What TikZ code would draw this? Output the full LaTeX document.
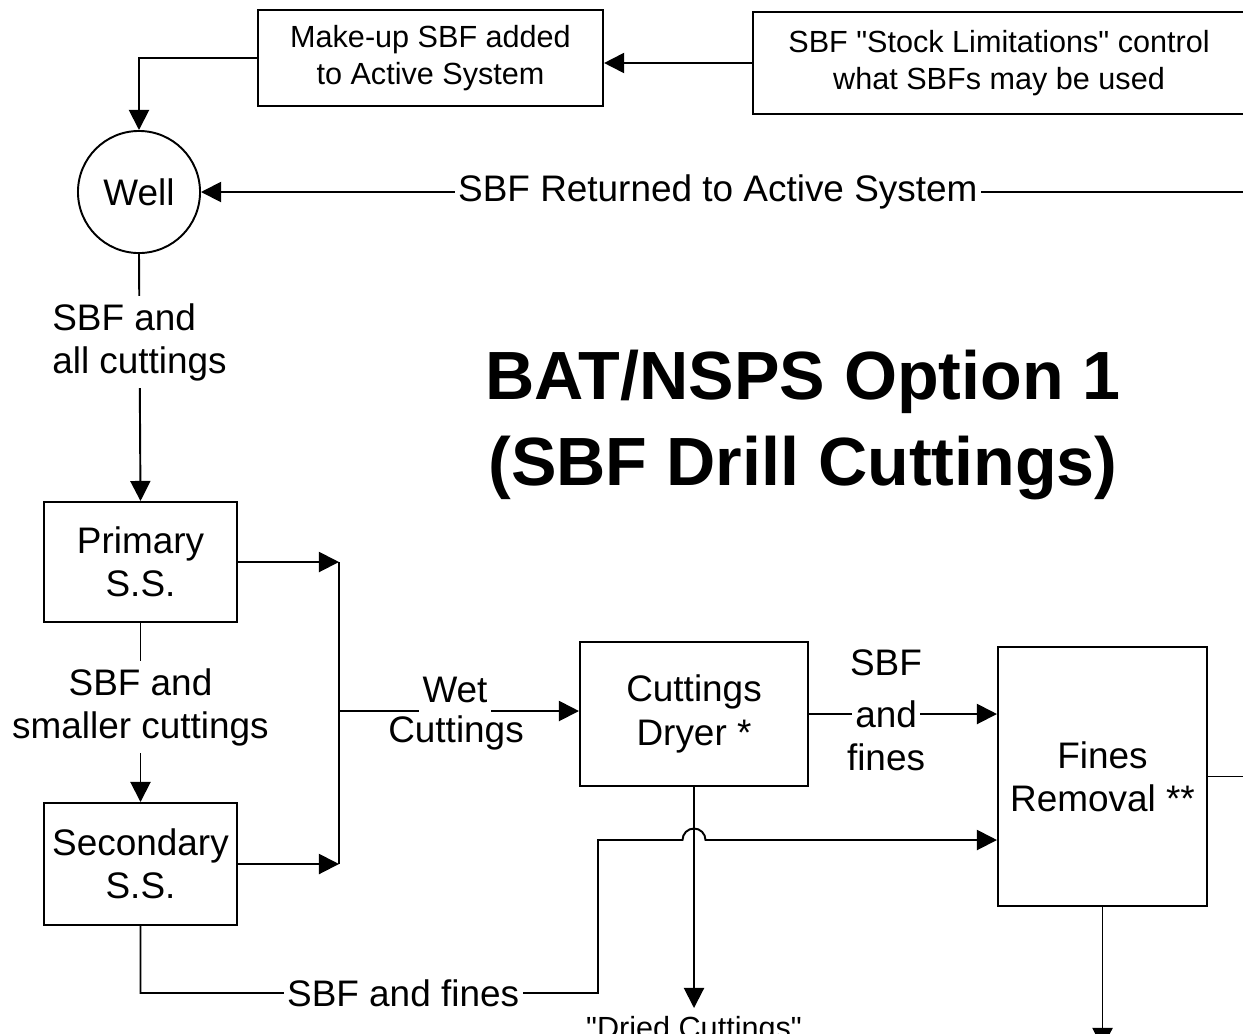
\documentclass[tikz,border=0pt]{standalone}
\usepackage{fontspec}
\setmainfont{Liberation Sans}
\usetikzlibrary{arrows.meta,positioning}

\begin{document}
\begin{tikzpicture}[x=0.01cm,y=-0.01cm,line width=0.55pt]
  \tikzstyle{blk}=[draw,rectangle,align=center,inner sep=0pt,font=\fontsize{10.5}{12.3}\selectfont]
  \tikzstyle{note}=[draw,rectangle,align=center,inner sep=0pt,font=\fontsize{8.7}{10.5}\selectfont]
  \tikzstyle{lbl}=[align=center,inner sep=2pt,font=\fontsize{10.5}{12.3}\selectfont]
  \tikzstyle{f}=[-{Triangle[length=5.7pt,width=5.7pt]}]

  \useasboundingbox (0,0) rectangle (1243,1033);

  \node[note,minimum width=3.45cm,minimum height=0.96cm] (mkup) at (430.5,58) {Make-up SBF added\\ to Active System};
  \node[note,minimum width=4.92cm,minimum height=1.02cm] (stock) at (999,63) {SBF \textquotedbl Stock Limitations\textquotedbl{} control\\ what SBFs may be used};
  \node[blk,circle,minimum size=1.22cm] (well) at (139,192) {Well};
  \node[blk,minimum width=1.93cm,minimum height=1.2cm] (prim) at (140.5,562) {Primary\\ S.S.};
  \node[blk,minimum width=1.93cm,minimum height=1.22cm] (sec) at (140.5,864) {Secondary\\ S.S.};
  \node[blk,minimum width=2.28cm,minimum height=1.44cm] (dryer) at (694,714) {Cuttings\\ Dryer *};
  \node[blk,minimum width=2.09cm,minimum height=2.59cm] (fines) at (1102.5,776.5) {Fines\\ Removal **};
  \node[align=center,font=\fontsize{19.4}{24.2}\selectfont\bfseries] (title) at (803,425) {BAT/NSPS Option 1\\ (SBF Drill Cuttings)};
  \node[lbl,font=\fontsize{8.7}{10.5}\selectfont,anchor=north] (dried) at (694,1008) {\textquotedbl Dried Cuttings\textquotedbl};

  \coordinate (bustop) at (339,562);
  \coordinate (busmid) at (339,711);
  \coordinate (busbot) at (339,864);
  \coordinate (hop) at (694,840);
  \coordinate (retc) at (1260,192);
  \coordinate (finesout) at (1102.5,1048);

  % top part
  \draw[f] (stock.west) -- (stock.west -| mkup.east);
  \draw[f] (mkup.west) -| (well.north);
  \draw[f] (fines.east) -| (retc) -- node[lbl,fill=white,pos=0.512,inner sep=1pt]{SBF Returned to Active System} (well.east);
  \draw[f] (well.south) -- node[lbl,fill=white,align=left,pos=0.357]{SBF and\\ all cuttings} (prim.north);

  % shakers
  \draw[f] (prim.south) -- node[lbl,fill=white,pos=0.47]{SBF and\\ smaller cuttings} (sec.north);
  \draw[f] (prim.east) -- (bustop);
  \draw[f] (sec.east) -- (busbot);
  \draw (bustop) -- (busbot);
  \draw[f] (busmid) -- (dryer.west |- busmid);
  \node[lbl,fill=white,inner xsep=1pt,inner ysep=3pt] (wet) at (455,690) {Wet};
  \node[lbl] (wetc) at (456,733) {Cuttings};

  % dryer and fines
  \draw[f] (dryer.east) -- node[lbl,fill=white,pos=0.41,inner sep=1pt] (andl) {and} (fines.west |- dryer.east);
  \node[lbl] (sbfl) at (886,663) {SBF};
  \node[lbl] (finl) at (886,757) {fines};
  \draw[f] (sec.south) |- node[lbl,fill=white,pos=0.787,inner sep=1pt]{SBF and fines} (598,993) -- (598,840)
    -- ([xshift=-0.115cm]hop) arc[start angle=180,end angle=0,radius=0.115cm] -- (fines.west |- hop);
  \draw[f] (dryer.south) -- (dried.north);
  \draw[f] (fines.south) -- (finesout);
\end{tikzpicture}
\end{document}
